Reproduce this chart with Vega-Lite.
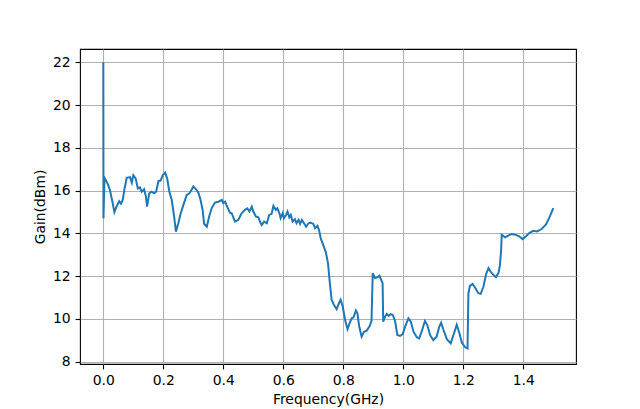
{
"$schema": "https://vega.github.io/schema/vega-lite/v6.json",
"autosize": {"type": "none"},
"width": 496,
"height": 315,
"padding": {"left": 80, "top": 49, "right": 64, "bottom": 45},
"background": "white",
"config": {
  "view": {"stroke": "black", "strokeWidth": 1.1},
  "axis": {
    "domain": false,
    "grid": true,
    "gridColor": "#b0b0b0",
    "gridWidth": 1.1,
    "tickColor": "black",
    "tickSize": 4.9,
    "tickWidth": 1.1,
    "labelFont": "DejaVu Sans",
    "labelFontSize": 13.9,
    "labelColor": "black",
    "labelPadding": 4.9,
    "titleFont": "DejaVu Sans",
    "titleFontSize": 13.9,
    "titleFontWeight": "normal",
    "titleColor": "black",
    "titlePadding": 5
  }
},
"data": {"values": [
{"f":0,"g":22},{"f":0.0005,"g":14.7},{"f":0.004,"g":16.6},{"f":0.008,"g":16.5},{"f":0.015,"g":16.3},{"f":0.022,"g":16.03},{"f":0.03,"g":15.5},{"f":0.037,"g":14.99},{"f":0.044,"g":15.25},{"f":0.053,"g":15.5},{"f":0.059,"g":15.38},{"f":0.065,"g":15.57},{"f":0.07,"g":16.03},{"f":0.078,"g":16.6},{"f":0.089,"g":16.63},{"f":0.095,"g":16.37},{"f":0.1,"g":16.72},{"f":0.108,"g":16.56},{"f":0.115,"g":16.1},{"f":0.122,"g":16.15},{"f":0.128,"g":15.95},{"f":0.136,"g":16.06},{"f":0.142,"g":15.72},{"f":0.146,"g":15.25},{"f":0.153,"g":15.87},{"f":0.161,"g":15.95},{"f":0.169,"g":15.87},{"f":0.176,"g":15.95},{"f":0.184,"g":16.45},{"f":0.191,"g":16.47},{"f":0.198,"g":16.72},{"f":0.206,"g":16.84},{"f":0.213,"g":16.56},{"f":0.22,"g":15.95},{"f":0.228,"g":15.57},{"f":0.236,"g":14.79},{"f":0.242,"g":14.08},{"f":0.25,"g":14.47},{"f":0.258,"g":14.94},{"f":0.267,"g":15.33},{"f":0.278,"g":15.8},{"f":0.287,"g":15.87},{"f":0.294,"g":16.03},{"f":0.3,"g":16.19},{"f":0.309,"g":16.06},{"f":0.317,"g":15.9},{"f":0.324,"g":15.57},{"f":0.331,"g":15.1},{"f":0.336,"g":14.45},{"f":0.345,"g":14.31},{"f":0.353,"g":14.8},{"f":0.361,"g":15.17},{"f":0.372,"g":15.44},{"f":0.384,"g":15.48},{"f":0.395,"g":15.56},{"f":0.4,"g":15.41},{"f":0.406,"g":15.48},{"f":0.413,"g":15.25},{"f":0.422,"g":14.97},{"f":0.428,"g":14.94},{"f":0.439,"g":14.55},{"f":0.45,"g":14.63},{"f":0.461,"g":14.94},{"f":0.472,"g":15.1},{"f":0.48,"g":15.17},{"f":0.487,"g":15.02},{"f":0.495,"g":15.25},{"f":0.5,"g":15.02},{"f":0.509,"g":14.78},{"f":0.517,"g":14.75},{"f":0.522,"g":14.55},{"f":0.528,"g":14.39},{"f":0.536,"g":14.55},{"f":0.545,"g":14.47},{"f":0.553,"g":14.86},{"f":0.561,"g":14.91},{"f":0.567,"g":15.28},{"f":0.575,"g":15.1},{"f":0.58,"g":15.17},{"f":0.587,"g":14.94},{"f":0.591,"g":14.71},{"f":0.598,"g":14.94},{"f":0.602,"g":14.71},{"f":0.609,"g":14.86},{"f":0.614,"g":15.02},{"f":0.62,"g":14.75},{"f":0.625,"g":14.86},{"f":0.631,"g":14.55},{"f":0.639,"g":14.66},{"f":0.644,"g":14.47},{"f":0.651,"g":14.63},{"f":0.656,"g":14.44},{"f":0.662,"g":14.63},{"f":0.669,"g":14.47},{"f":0.676,"g":14.31},{"f":0.684,"g":14.47},{"f":0.691,"g":14.5},{"f":0.7,"g":14.44},{"f":0.706,"g":14.24},{"f":0.714,"g":14.35},{"f":0.719,"g":14.16},{"f":0.725,"g":13.75},{"f":0.733,"g":13.46},{"f":0.742,"g":13.1},{"f":0.749,"g":12.6},{"f":0.754,"g":11.82},{"f":0.761,"g":10.89},{"f":0.769,"g":10.65},{"f":0.778,"g":10.45},{"f":0.783,"g":10.65},{"f":0.791,"g":10.89},{"f":0.798,"g":10.58},{"f":0.806,"g":9.95},{"f":0.814,"g":9.52},{"f":0.821,"g":9.8},{"f":0.828,"g":10.03},{"f":0.834,"g":10.07},{"f":0.842,"g":10.39},{"f":0.847,"g":10.26},{"f":0.853,"g":9.64},{"f":0.861,"g":9.17},{"f":0.869,"g":9.4},{"f":0.878,"g":9.45},{"f":0.887,"g":9.64},{"f":0.894,"g":9.9},{"f":0.898,"g":12.14},{"f":0.906,"g":11.9},{"f":0.914,"g":11.95},{"f":0.92,"g":12.02},{"f":0.926,"g":11.83},{"f":0.931,"g":11.67},{"f":0.933,"g":9.87},{"f":0.939,"g":10.1},{"f":0.945,"g":10.23},{"f":0.951,"g":10.14},{"f":0.958,"g":10.22},{"f":0.965,"g":10.18},{"f":0.973,"g":9.87},{"f":0.98,"g":9.25},{"f":0.989,"g":9.2},{"f":0.998,"g":9.29},{"f":1.006,"g":9.64},{"f":1.017,"g":10.03},{"f":1.025,"g":9.87},{"f":1.034,"g":9.4},{"f":1.045,"g":9.14},{"f":1.053,"g":9.09},{"f":1.061,"g":9.4},{"f":1.072,"g":9.9},{"f":1.08,"g":9.71},{"f":1.089,"g":9.25},{"f":1.1,"g":9.01},{"f":1.111,"g":9.17},{"f":1.12,"g":9.64},{"f":1.126,"g":9.82},{"f":1.134,"g":9.48},{"f":1.145,"g":9.05},{"f":1.158,"g":8.86},{"f":1.169,"g":9.33},{"f":1.178,"g":9.72},{"f":1.187,"g":9.33},{"f":1.195,"g":8.89},{"f":1.206,"g":8.67},{"f":1.214,"g":8.62},{"f":1.217,"g":11.2},{"f":1.222,"g":11.54},{"f":1.231,"g":11.63},{"f":1.239,"g":11.47},{"f":1.25,"g":11.2},{"f":1.258,"g":11.17},{"f":1.267,"g":11.5},{"f":1.276,"g":12.1},{"f":1.284,"g":12.37},{"f":1.291,"g":12.21},{"f":1.3,"g":12.06},{"f":1.309,"g":11.95},{"f":1.317,"g":12.14},{"f":1.322,"g":12.5},{"f":1.326,"g":13.2},{"f":1.328,"g":13.93},{"f":1.339,"g":13.81},{"f":1.35,"g":13.89},{"f":1.361,"g":13.97},{"f":1.375,"g":13.93},{"f":1.386,"g":13.86},{"f":1.398,"g":13.73},{"f":1.409,"g":13.86},{"f":1.42,"g":14.01},{"f":1.433,"g":14.12},{"f":1.446,"g":14.09},{"f":1.461,"g":14.2},{"f":1.475,"g":14.4},{"f":1.486,"g":14.71},{"f":1.5,"g":15.18}
]},
"mark": {"type": "line", "color": "#1f77b4", "strokeWidth": 2, "clip": true},
"encoding": {
  "x": {"field": "f", "type": "quantitative",
        "scale": {"domain": [-0.0777, 1.5756], "nice": false, "zero": false},
        "axis": {"title": "Frequency(GHz)", "values": [0, 0.2, 0.4, 0.6, 0.8, 1.0, 1.2, 1.4], "format": ".1f"}},
  "y": {"field": "g", "type": "quantitative",
        "scale": {"domain": [7.89, 22.62], "nice": false, "zero": false},
        "axis": {"title": "Gain(dBm)", "values": [8, 10, 12, 14, 16, 18, 20, 22], "format": "d"}}
}
}
